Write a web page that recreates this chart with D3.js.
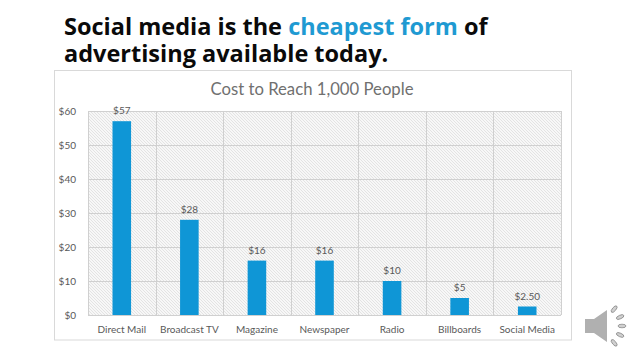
<!DOCTYPE html>
<html>
<head>
<meta charset="utf-8">
<script src="https://cdn.jsdelivr.net/npm/d3@7"></script>
<style>
html, body { margin: 0; padding: 0; background: #fff; overflow: hidden; }
svg { display: block; }
</style>
</head>
<body>
<div id="chart"></div>
<script>
const categories = ['Direct Mail', 'Broadcast TV', 'Magazine', 'Newspaper', 'Radio', 'Billboards', 'Social Media']
const values = [57, 28, 16, 16, 10, 5, 2.5]
const valueLabels = ['$57', '$28', '$16', '$16', '$10', '$5', '$2.50']
const yTicks = [0, 10, 20, 30, 40, 50, 60]

const width = 638, height = 359
const margin = { top: 111, right: 77, bottom: 44, left: 88 }
const font = 'Lato, "Open Sans", sans-serif'
const blue = '#0f96d6'
const grey = '#595959'

const svg = d3.select('#chart').append('svg')
    .attr('width', width)
    .attr('height', height)

const defs = svg.append('defs')

// headline
const headline = svg.append('text')
    .attr('font-family', '"Open Sans", sans-serif')
    .attr('font-weight', 700)
    .attr('font-size', 23.5)
    .attr('fill', '#0a0a0a')

headline.append('tspan').attr('x', 64).attr('y', 35).text('Social media is the ')
headline.append('tspan').attr('fill', '#1f9ad2').text('cheapest form')
headline.append('tspan').text(' of')
headline.append('tspan').attr('x', 64).attr('y', 62).text('advertising available today.')

// chart frame
svg.append('rect')
    .attr('x', 54.5).attr('y', 70.5)
    .attr('width', 517).attr('height', 269.5)
    .attr('fill', '#fff')
    .attr('stroke', '#d9d9d9')

svg.append('text')
    .attr('x', 312).attr('y', 95)
    .attr('text-anchor', 'middle')
    .attr('font-family', font)
    .attr('font-size', 16.7)
    .attr('fill', '#707070')
    .text('Cost to Reach 1,000 People')

const x = d3.scaleBand()
    .domain(categories)
    .range([margin.left, width - margin.right])

const y = d3.scaleLinear()
    .domain([0, 60])
    .range([height - margin.bottom, margin.top])

const barWidth = x.bandwidth() * 0.275

// hatched plot background, one pixel diagonal
const pattern = defs.append('pattern')
    .attr('id', 'hatch')
    .attr('width', 3).attr('height', 3)
    .attr('patternUnits', 'userSpaceOnUse')
pattern.append('rect').attr('width', 3).attr('height', 3).attr('fill', '#f7f7f7')
pattern.selectAll('.px')
    .data([0, 1, 2])
    .join('rect')
    .attr('class', 'px')
    .attr('x', d => d).attr('y', d => d)
    .attr('width', 1).attr('height', 1)
    .attr('fill', '#e3e3e3')

svg.append('rect')
    .attr('x', margin.left)
    .attr('y', margin.top)
    .attr('width', width - margin.left - margin.right)
    .attr('height', height - margin.top - margin.bottom)
    .attr('fill', 'url(#hatch)')

// gridlines
svg.append('g')
    .selectAll('line')
    .data(yTicks)
    .join('line')
    .attr('x1', margin.left)
    .attr('x2', width - margin.right)
    .attr('y1', d => Math.round(y(d)) + 0.5)
    .attr('y2', d => Math.round(y(d)) + 0.5)
    .attr('stroke', '#d0d0d0')

svg.append('g')
    .selectAll('line')
    .data([...categories.map(d => x(d)), width - margin.right])
    .join('line')
    .attr('x1', d => Math.round(d) + 0.5)
    .attr('x2', d => Math.round(d) + 0.5)
    .attr('y1', margin.top)
    .attr('y2', height - margin.bottom)
    .attr('stroke', '#d0d0d0')

// axes
const xAxis = svg.append('g')
    .attr('transform', `translate(0,${ height - margin.bottom })`)
    .call(d3.axisBottom(x).tickSize(0).tickPadding(11))
const yAxis = svg.append('g')
    .attr('transform', `translate(${ margin.left },0)`)
    .call(d3.axisLeft(y).tickValues(yTicks).tickFormat(d => `$${ d }`).tickSize(0).tickPadding(12))

for (const axis of [xAxis, yAxis]) {
    axis.select('.domain').remove()
    axis.selectAll('text')
        .attr('font-family', font)
        .attr('font-size', 10)
        .attr('fill', grey)
}

// bars
svg.append('g')
    .selectAll('rect')
    .data(values)
    .join('rect')
    .attr('x', (d, i) => x(categories[i]) + (x.bandwidth() - barWidth) / 2)
    .attr('y', d => y(d))
    .attr('width', barWidth)
    .attr('height', d => y(0) - y(d))
    .attr('fill', blue)

svg.append('g')
    .selectAll('text')
    .data(values)
    .join('text')
    .attr('x', (d, i) => x(categories[i]) + x.bandwidth() / 2)
    .attr('y', d => y(d) - 7)
    .attr('text-anchor', 'middle')
    .attr('font-family', font)
    .attr('font-size', 10)
    .attr('fill', grey)
    .text((d, i) => valueLabels[i])

// speaker icon
defs.append('filter').attr('id', 'soft')
    .append('feGaussianBlur').attr('stdDeviation', 0.6)

const speaker = svg.append('g')
    .attr('transform', 'translate(585,326)')
    .attr('filter', 'url(#soft)')
speaker.append('path')
    .attr('d', 'M0,-7 L9,-7 L22,-16 L22,16 L9,7 L0,7 Z')
    .attr('fill', '#b0b0b0')
speaker.selectAll('ellipse')
    .data([-50, -24, 0, 24, 50])
    .join('ellipse')
    .attr('rx', 4)
    .attr('ry', 1.8)
    .attr('transform', a => `rotate(${ a } 15 0) translate(37,0)`)
    .attr('fill', '#d0d0d0')
    .attr('stroke', '#808080')
    .attr('stroke-width', 0.7)
</script>
</body>
</html>
